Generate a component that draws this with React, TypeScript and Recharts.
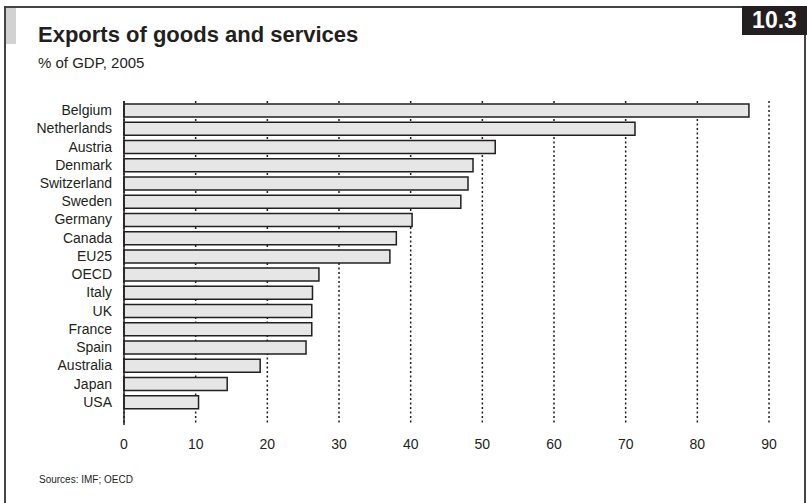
import React from 'react';
import { BarChart, Bar, XAxis, YAxis, CartesianGrid } from 'recharts';

const countries = [
  'Belgium', 'Netherlands', 'Austria', 'Denmark', 'Switzerland', 'Sweden', 'Germany',
  'Canada', 'EU25', 'OECD', 'Italy', 'UK', 'France', 'Spain', 'Australia', 'Japan', 'USA',
];
const exportsPct = [87.2, 71.3, 51.8, 48.7, 48.0, 47.0, 40.2, 38.0, 37.1, 27.2, 26.3, 26.2, 26.2, 25.4, 19.0, 14.4, 10.4];
const xTicks = [0, 10, 20, 30, 40, 50, 60, 70, 80, 90];

const INK = '#231f20';
const FONT = "'Liberation Sans', Arial, sans-serif";

const data = countries.map((name, i) => ({ name, value: exportsPct[i] }));

const App: React.FC = () => {
  return (
    <div style={{ position: 'absolute', left: 0, top: 0, width: 807, height: 503, background: '#fff', fontFamily: FONT, color: INK, overflow: 'hidden' }}>
      {/* frame */}
      <div style={{ position: 'absolute', left: 4, top: 6, width: 738, height: 2, background: '#444' }} />
      <div style={{ position: 'absolute', left: 4, top: 6, width: 2, height: 497, background: '#444' }} />
      <div style={{ position: 'absolute', left: 804, top: 35, width: 2, height: 468, background: '#444' }} />
      <div style={{ position: 'absolute', left: 6, top: 8, width: 10, height: 36, background: '#d2d2d3' }} />
      <div style={{ position: 'absolute', left: 742, top: 6, width: 65, height: 29, background: INK, color: '#fff', fontWeight: 'bold', fontSize: 23, lineHeight: '29px', textAlign: 'center' }}>
        10.3
      </div>

      <div style={{ position: 'absolute', left: 38, top: 22, fontSize: 22, fontWeight: 'bold', whiteSpace: 'nowrap' }}>
        Exports of goods and services
      </div>
      <div style={{ position: 'absolute', left: 38, top: 54, fontSize: 15, whiteSpace: 'nowrap' }}>
        % of GDP, 2005
      </div>
      <div style={{ position: 'absolute', left: 39, top: 474, fontSize: 10, whiteSpace: 'nowrap' }}>
        Sources: IMF; OECD
      </div>

      <div style={{ position: 'absolute', left: 0, top: 0 }}>
        <BarChart
          width={807}
          height={503}
          data={data}
          layout="vertical"
          margin={{ top: 101, right: 38, bottom: 48, left: 0 }}
          style={{ fontFamily: FONT }}
        >
          <CartesianGrid horizontal={false} stroke={INK} strokeWidth={1.5} strokeDasharray="2 2.5" />
          <XAxis
            type="number"
            domain={[0, 90]}
            ticks={xTicks}
            axisLine={false}
            tickLine={false}
            tickMargin={8}
            height={30}
            tick={{ fill: INK, fontSize: 14 }}
          />
          <YAxis
            type="category"
            dataKey="name"
            width={124}
            padding={{ top: 0, bottom: 14 }}
            axisLine={{ stroke: INK, strokeWidth: 1.5 }}
            tickLine={false}
            tickMargin={6}
            interval={0}
            tick={{ fill: INK, fontSize: 14 }}
          />
          <Bar dataKey="value" fill="#e6e6e7" stroke={INK} strokeWidth={1.5} barSize={13} isAnimationActive={false} />
        </BarChart>
      </div>
    </div>
  );
};

export default App;
